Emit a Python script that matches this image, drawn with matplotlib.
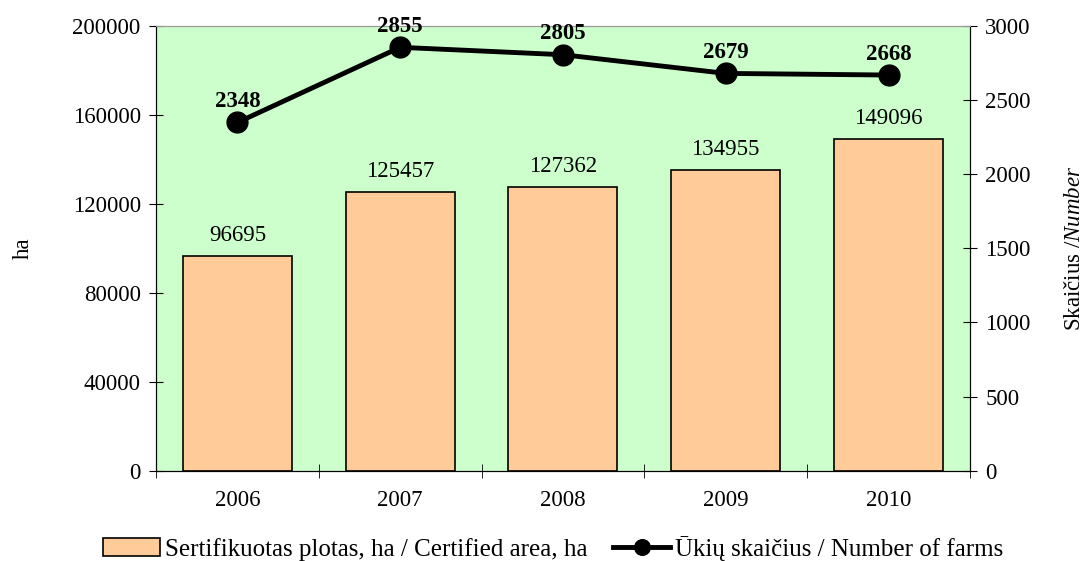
import matplotlib
matplotlib.use('Agg')
import matplotlib.pyplot as plt
import numpy as np

# duomenys
years = ['2006', '2007', '2008', '2009', '2010']
area_ha = [96695, 125457, 127362, 134955, 149096]
farms = [2348, 2855, 2805, 2679, 2668]

plt.rcParams['font.family'] = ['Liberation Serif', 'DejaVu Serif']
plt.rcParams['font.size'] = 16.5
plt.rcParams['mathtext.fontset'] = 'custom'
plt.rcParams['mathtext.rm'] = 'Liberation Serif'
plt.rcParams['mathtext.it'] = 'Liberation Serif:italic'

fig = plt.figure(figsize=(10.91, 5.61), dpi=100)
ax = fig.add_axes([0.143, 0.161, 0.746, 0.793])
ax.set_facecolor('#CCFFCC')

x = np.arange(len(years))
bars = ax.bar(x, area_ha, width=0.67, color='#FFCC99', edgecolor='black',
              linewidth=1.2, label='Sertifikuotas plotas, ha / Certified area, ha', zorder=2)
for xi, v in zip(x, area_ha):
    ax.text(xi, v + 4500, str(v), ha='center', va='bottom')

ax.set_xlim(-0.5, len(years) - 0.5)
ax.set_ylim(0, 200000)
ax.set_yticks(np.arange(0, 200001, 40000))
ax.set_xticks(x)
ax.set_xticklabels(years)
ax.set_xticks(np.arange(-0.5, len(years), 1), minor=True)
ax.tick_params(axis='x', which='major', length=0, pad=14)
ax.tick_params(axis='x', which='minor', direction='inout', length=10)
ax.tick_params(axis='y', direction='inout', length=10, pad=6)
ax.set_ylabel('ha', labelpad=28)
ax.spines['top'].set_color('#999999')

ax2 = ax.twinx()
line, = ax2.plot(x, farms, color='black', linewidth=3.5, marker='o', markersize=15,
                 label='Ūkių skaičius / Number of farms', zorder=3)
for xi, v in zip(x, farms):
    ax2.text(xi, v + 70, str(v), ha='center', va='bottom', fontweight='bold')
ax2.set_ylim(0, 3000)
ax2.set_yticks(np.arange(0, 3001, 500))
ax2.tick_params(axis='y', direction='inout', length=10, pad=6)
ax2.set_ylabel('Skaičius /$\\it{Number}$', labelpad=24)
ax2.spines['top'].set_color('#999999')

fig.legend(handles=[bars, line], loc='center', bbox_to_anchor=(0.507, 0.023), ncol=2,
           frameon=False, fontsize=18, handlelength=2.3, columnspacing=1.0,
           handletextpad=0.2, markerscale=0.75)

fig.savefig('out.png', dpi=100)
